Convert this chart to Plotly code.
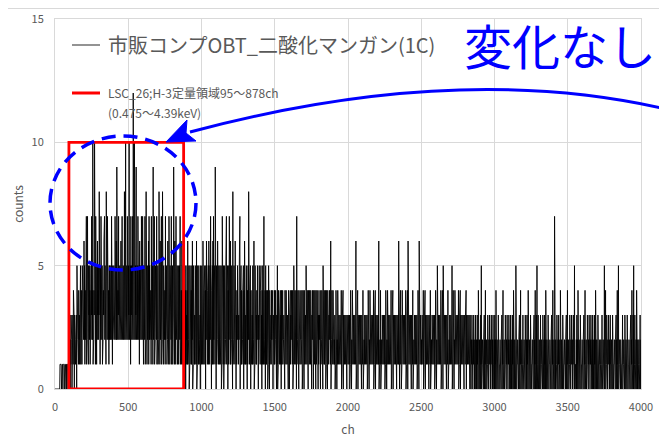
import plotly.graph_objects as go

# spectrum counts, one value per 2 channels (hex digit per point: A=10, C=12)
counts_0000 = "0000000000 0000000111 1101111011 1110111101 1011110121 1302131203 1314230312 1323051324 1423132513 2415243526"
counts_0200 = "2514253715 2725153524 152537242A 15243A2517 2715263425 3826152735 2515243627 2535182527 3724152534 2527361524"
counts_0400 = "3525273526 2935243725 3525362437 2535243825 3A25352736 253A243517 3525372C35 2A35253926 3527352516 2535273427"
counts_0600 = "2515352715 2835152536 1725253417 2535192537 1525352714 2515283516 2537152825 1535241725 3515262517 2515342715"
counts_0800 = "2515392516 2517243515 2515352715 2416251524 1425140513 2416142504 1523141526 0415241315 2416041524 1514230514"
counts_1000 = "1524162514 2514052615 1425162415 2715042516 1724151924 0514261415 2415132504 1724150425 1425171425 0415271416"
counts_1200 = "1425130814 2514162403 1425141325 1704251413 2415041624 1315240415 2817142504 1423151426 0415241314 2514032514"
counts_1400 = "1425130415 2417132405 1413240315 1304132314 2314031214 1324130315 0314231314 1304122413 2313041314 1413230413"
counts_1600 = "0314132413 1403152314 2314071324 1304131224 1324031413 0413231513 1423041314 2314130324 1304121423 0413241303"
counts_1800 = "1423130413 2413051314 1324031423 0413132413 1603241314 1312130314 1302141313 1213131402 1314031313 1313120312"
counts_2000 = "1312130314 1302141313 1213131602 1314031313 1313120312 1403121313 1312130314 1302141313 1213131402 1314031313"
counts_2200 = "1313160312 1403121313 1312130314 1302141313 1213131402 1314031313 1313120312 1316130314 1302141313 1213131402"
counts_2400 = "1314061313 1313120312 1403121313 1312130314 1306141313 1213131402 1314031313 1313120312 1403121313 1312130314"
counts_2600 = "1302151313 1213131402 1314051313 1313120312 1403121313 1312150314 1302141313 1213131402 1314031313 1313120312"
counts_2800 = "1314031313 1313120312 0213020213 1202031102 0312041202 0203150112 1202030214 0212011302 0213020213 1202031102"
counts_3000 = "0312041202 0203120112 1202030214 0212011302 0213020213 1202031102 0312041202 0205120112 1202030214 0212011302"
counts_3200 = "1202031102 0312041202 0203120112 1202030214 0213050213 0212011302 1202031102 0312041202 0203120112 1202030214"
counts_3400 = "0212071302 0213020213 0312041202 0203120112 1202030214 0212011302 0213020213 1205031102 0312041202 0203120112"
counts_3600 = "1202030214 0212011302 0213020213 1202031102 0312041202 0203120112 0212011302 1202050214 0213020213 1202031102"
counts_3800 = "0203120112 1202030214 0315041202 0212011302 1202031102 0203120112 1202030214 0213050213 0312041202 0212011302"
ch_step = 2

roi_ch = [95, 878]      # H-3 quantification region
roi_top = 10
series_name = "市販コンプOBT_二酸化マンガン(1C)"
roi_label = ["LSC_26;H-3定量領域95～878ch", "(0.475～4.39keV)"]
note = "変化なし"
x_ticks = [0, 500, 1000, 1500, 2000, 2500, 3000, 3500, 4000]
y_ticks = [0, 5, 10, 15]

raw = "".join([counts_0000, counts_0200, counts_0400, counts_0600, counts_0800,
               counts_1000, counts_1200, counts_1400, counts_1600, counts_1800,
               counts_2000, counts_2200, counts_2400, counts_2600, counts_2800,
               counts_3000, counts_3200, counts_3400, counts_3600, counts_3800]).replace(" ", "")
counts = [int(c, 16) for c in raw]
ch = [i * ch_step for i in range(len(counts))]
print(len(counts))

# page has an 8px body margin, so the figure is a bit smaller than the window
W, H = 659, 440
L, R, T, B = 47, 26, 11, 59
FONT = "Noto Sans CJK JP"
GRAY = "#595959"
BLUE = "#0000FF"


# page pixel -> paper coords (plot area spans x 55..641, y 19..389 on the page)
def px(x):
    return (x - 55) / 586


def py(y):
    return (389 - y) / 370


fig = go.Figure()
fig.add_trace(go.Scatter(x=ch, y=counts, mode="lines",
                         line=dict(color="black", width=0.9), showlegend=False))
fig.add_trace(go.Scatter(
    x=[roi_ch[0], roi_ch[0], roi_ch[1], roi_ch[1], roi_ch[0]],
    y=[0, roi_top, roi_top, 0, 0],
    mode="lines", line=dict(color="#FF0000", width=2.8), showlegend=False))

shapes = [
    dict(type="line", xref="paper", yref="paper", x0=px(0), x1=px(680), y0=py(8.5), y1=py(8.5),
         line=dict(color="#d9d9d9", width=1)),
    dict(type="line", xref="paper", yref="paper", x0=px(72), x1=px(100), y0=py(45), y1=py(45),
         line=dict(color=GRAY, width=1.3)),
    dict(type="line", xref="paper", yref="paper", x0=px(72), x1=px(100), y0=py(93), y1=py(93),
         line=dict(color="#FF0000", width=3)),
    dict(type="circle", xref="paper", yref="paper", x0=px(50), x1=px(196), y0=py(270), y1=py(136),
         line=dict(color=BLUE, width=3.5, dash="14px,8px")),
    dict(type="path", xref="paper", yref="paper",
         path=f"M {px(670)},{py(110)} Q {px(459)},{py(60)} {px(190)},{py(132)}",
         line=dict(color=BLUE, width=3)),
    dict(type="path", xref="paper", yref="paper", fillcolor=BLUE,
         path=(f"M {px(166)},{py(142)} L {px(196)},{py(141)} L {px(186)},{py(133)} "
               f"L {px(187)},{py(120)} Z"),
         line=dict(color=BLUE, width=1)),
]

annotations = [
    dict(x=px(106), y=py(45), xref="paper", yref="paper", text=series_name, showarrow=False,
         xanchor="left", yanchor="middle", font=dict(size=20, color=GRAY, family=FONT)),
    dict(x=px(106), y=py(92), xref="paper", yref="paper", text=roi_label[0], showarrow=False,
         xanchor="left", yanchor="middle", font=dict(size=12, color=GRAY, family=FONT)),
    dict(x=px(106), y=py(113), xref="paper", yref="paper", text=roi_label[1], showarrow=False,
         xanchor="left", yanchor="middle", font=dict(size=12, color=GRAY, family=FONT)),
    dict(x=px(560), y=py(44), xref="paper", yref="paper", text=note, showarrow=False,
         xanchor="center", yanchor="middle", font=dict(size=48, color=BLUE, family=FONT)),
]

fig.update_layout(
    width=W, height=H,
    margin=dict(l=L, r=R, t=T, b=B),
    paper_bgcolor="white", plot_bgcolor="white",
    font=dict(family=FONT, color=GRAY),
    shapes=shapes, annotations=annotations,
)
fig.update_xaxes(range=[0, 4000], tickvals=x_ticks, showgrid=True, gridcolor="#d9d9d9",
                 showline=True, linecolor="#d9d9d9", mirror=True, zeroline=False,
                 automargin=False,
                 tickfont=dict(size=11, color=GRAY), ticklabelstandoff=8,
                 title=dict(text="ch", font=dict(size=12, color=GRAY), standoff=12))
fig.update_yaxes(range=[0, 15], tickvals=y_ticks, showgrid=True, gridcolor="#d9d9d9",
                 showline=True, linecolor="#d9d9d9", mirror=True, zeroline=False,
                 automargin=False,
                 tickfont=dict(size=11, color=GRAY), ticklabelstandoff=8,
                 title=dict(text="counts", font=dict(size=12, color=GRAY), standoff=5))

fig.write_html("out.html")
